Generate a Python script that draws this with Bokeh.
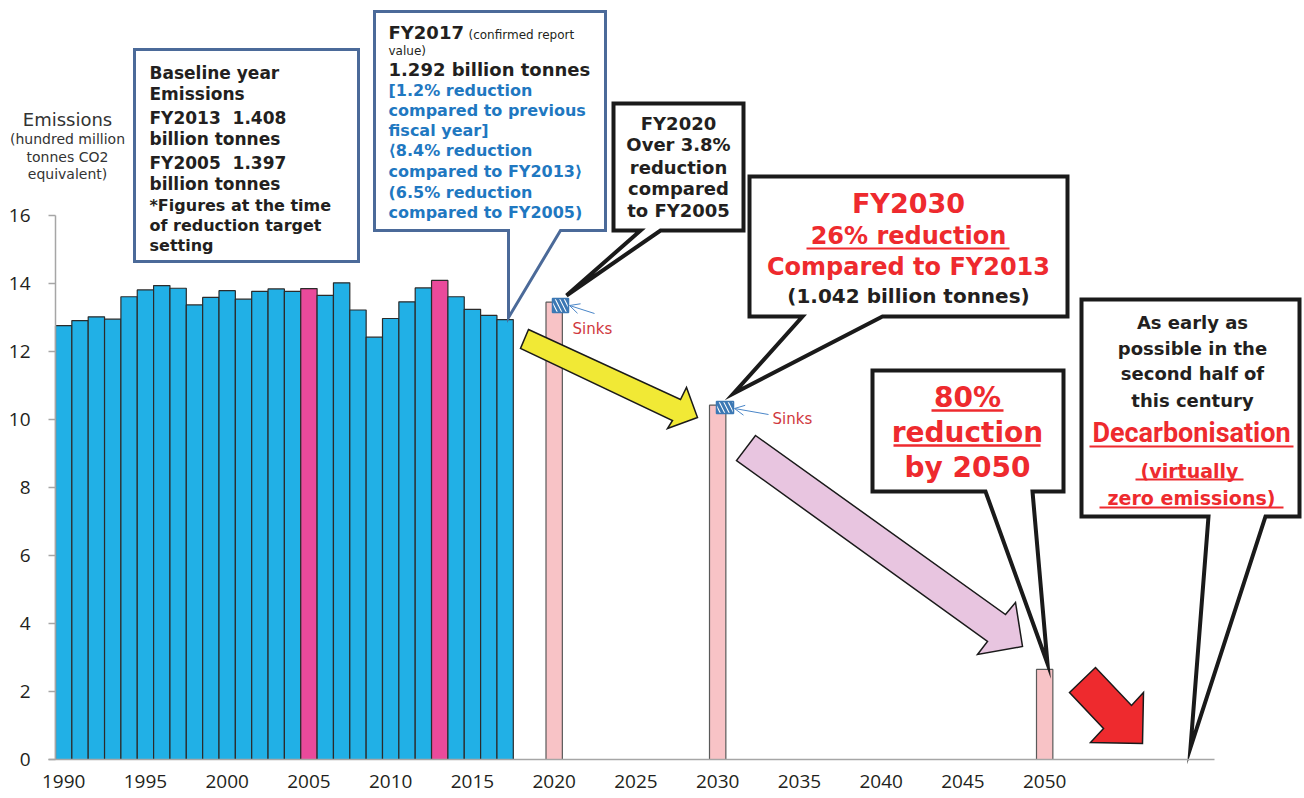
from bokeh.plotting import figure
from bokeh.models import FixedTicker, Arrow, OpenHead
from bokeh.core.properties import value
from bokeh.embed import file_html
from bokeh.resources import INLINE

# ---------------- data ----------------
hist_years = list(range(1990, 2018))
hist_emissions = [12.76, 12.91, 13.02, 12.95, 13.61, 13.81, 13.94, 13.86, 13.37, 13.59,
                  13.79, 13.54, 13.77, 13.84, 13.77, 13.85, 13.65, 14.02, 13.22, 12.42,
                  12.97, 13.46, 13.87, 14.09, 13.61, 13.24, 13.06, 12.94]
highlight_years = [2005, 2013]
target_years = [2020, 2030, 2050]
target_emissions = [13.45, 10.42, 2.65]
y_ticks = [0, 2, 4, 6, 8, 10, 12, 14, 16]
x_ticks = [1990, 1995, 2000, 2005, 2010, 2015, 2020, 2025, 2030, 2035, 2040, 2045, 2050]

BLUE = "#21B0E6"
MAGENTA = "#EA4A9B"
LIGHTPINK = "#F8C3C6"
RED = "#EE2A2E"
TXT = "#231F20"
TXTBLUE = "#1F78C1"
BOXBLUE = "#4B6A99"

# ---------------- figure ----------------
W, H = 1302, 796
X0 = 1989.5
PXY = 16.35   # pixels per year
PXU = 34.0    # pixels per unit
AXIS_PX, BOTTOM_PX = 55, 759

def dx(px):
    return X0 + (px - AXIS_PX) / PXY

def dy(py):
    return (BOTTOM_PX - py) / PXU

p = figure(width=W, height=H, output_backend="svg", toolbar_location=None,
           x_range=(dx(0), dx(W)), y_range=(dy(H), dy(0)),
           min_border_left=0, min_border_right=0, min_border_top=0, min_border_bottom=0)
p.grid.visible = False
p.outline_line_color = None
p.background_fill_color = "white"

p.yaxis.fixed_location = X0
p.yaxis.ticker = FixedTicker(ticks=y_ticks)
p.yaxis.bounds = (0, 16)
p.yaxis.axis_line_color = "#A6A6A6"
p.yaxis.axis_line_width = 1.5
p.yaxis.major_tick_line_color = "#A6A6A6"
p.yaxis.major_tick_line_width = 1.5
p.yaxis.major_tick_out = 7
p.yaxis.major_tick_in = 0
p.yaxis.minor_tick_line_color = None
p.yaxis.major_label_standoff = 18
p.yaxis.major_label_text_font = "Open Sans"
p.yaxis.major_label_text_font_size = "19px"
p.yaxis.major_label_text_color = TXT

p.xaxis.fixed_location = 0
p.xaxis.ticker = FixedTicker(ticks=x_ticks)
p.xaxis.bounds = (dx(48), dx(1214))
p.xaxis.axis_line_color = "#A6A6A6"
p.xaxis.axis_line_width = 1.5
p.xaxis.major_tick_line_color = None
p.xaxis.major_tick_out = 0
p.xaxis.major_tick_in = 0
p.xaxis.minor_tick_line_color = None
p.xaxis.major_label_standoff = 15
p.xaxis.major_label_text_font = "Open Sans"
p.xaxis.major_label_text_font_size = "19px"
p.xaxis.major_label_text_color = TXT

# ---------------- bars ----------------
hist_colors = [MAGENTA if y in highlight_years else BLUE for y in hist_years]
p.vbar(x=hist_years, top=hist_emissions, width=1.0, bottom=0,
       fill_color=hist_colors, line_color="#2B2B2B", line_width=1.2)
p.vbar(x=target_years, top=target_emissions, width=1.0, bottom=0,
       fill_color=LIGHTPINK, line_color="#5A5A5A", line_width=1.2)

# ---------------- block arrows ----------------
def poly(pts, fill, line="#1A1A1A", lw=1.5):
    p.patch([dx(a) for a, b in pts], [dy(b) for a, b in pts],
            fill_color=fill, line_color=line, line_width=lw, line_join="miter")

poly([(528, 329), (680, 399), (686, 387), (697, 417), (667, 428), (672, 420), (520, 348)], "#F1E935")
poly([(755, 435), (1005, 614), (1015, 602), (1022, 646), (977, 654), (987, 641), (736, 460)], "#E8C5E0")
poly([(1069, 692), (1095, 667), (1131, 705), (1143, 692), (1142, 743), (1090, 742), (1103, 728)], RED)

# ---------------- callouts ----------------
def callout(l, t, r, b, tail=None, color="#1A1A1A", lw=4):
    pts = [(l, t), (r, t), (r, b)]
    if tail:
        (rb, ap, lb) = tail
        pts += [(rb, b), ap, (lb, b)]
    pts += [(l, b)]
    p.patch([dx(a) for a, c in pts], [dy(c) for a, c in pts],
            fill_color="white", line_color=color, line_width=lw, line_join="miter")

callout(134, 49, 358, 261, None, BOXBLUE, 3)
callout(374, 11, 605, 230, (560, (508, 317), 508), BOXBLUE, 3)
callout(613, 103, 743, 230, (660, (566, 295), 640))
callout(749, 176, 1067, 316, (882, (733, 393), 802))
callout(872, 370, 1063, 491, (1032, (1047, 663), 985))
callout(1081, 299, 1299, 516, (1265, (1190, 747), 1208))

# ---------------- sinks ----------------
for (l, t, r, b), (x0, y0, x1, y1), (tx, ty) in [
        ((552, 298, 568, 312), (594, 313, 569, 305), (572, 328)),
        ((716, 401, 733, 413), (768, 414, 734, 408), (772, 418))]:
    p.quad(left=dx(l), right=dx(r), top=dy(t), bottom=dy(b), fill_color="white",
           hatch_pattern="\\", hatch_color="#3C78B4", hatch_weight=3, hatch_scale=9,
           line_color="#3C78B4", line_width=1.5)
    p.add_layout(Arrow(end=OpenHead(size=10, line_color="#4A86C8", line_width=1),
                       x_start=dx(x0), y_start=dy(y0), x_end=dx(x1), y_end=dy(y1),
                       line_color="#4A86C8", line_width=1))
    p.text(x=[dx(tx)], y=[dy(ty)], text=["Sinks"], text_font=value("DejaVu Sans"),
           text_font_size="15px", text_color="#D0383E", text_align="left",
           text_baseline="middle")

# ---------------- texts ----------------
def txt(x, y, s, size, color=TXT, bold=True, align="left", font="DejaVu Sans"):
    p.text(x=[dx(x)], y=[dy(y)], text=[s], text_font=value(font),
           text_font_size=f"{size}px", text_color=color,
           text_font_style="bold" if bold else "normal",
           text_align=align, text_baseline="middle")

def uline(x0, x1, y, w=2.2, color=RED):
    p.segment(x0=[dx(x0)], y0=[dy(y)], x1=[dx(x1)], y1=[dy(y)], line_color=color, line_width=w)

NB = "\u00a0"

# y axis title
for s, yy, sz in [("Emissions", 119, 18), ("(hundred million", 138, 14),
                  ("tonnes CO2", 156, 14), ("equivalent)", 173, 14)]:
    txt(67, yy, s, sz, color="#333333", bold=False, align="center")

# box 1
for s, yy, sz in [("Baseline year", 72, 17), ("Emissions", 93, 17), ("FY2013 " + NB + "1.408", 117, 17),
                  ("billion tonnes", 138, 17), ("FY2005 " + NB + "1.397", 162, 17), ("billion tonnes", 183, 17),
                  ("*Figures at the time", 205, 16), ("of reduction target", 225, 16), ("setting", 245, 16)]:
    txt(149, yy, s, sz)

# box 2
txt(388, 32, "FY2017", 18)
txt(468, 34, "(confirmed report", 12, bold=False)
txt(388, 50, "value)", 12, bold=False)
txt(388, 69, "1.292 billion tonnes", 18)
for s, yy in [("[1.2% reduction", 90), ("compared to previous", 110), ("fiscal year]", 130),
              ("\u27e88.4% reduction", 150), ("compared to FY2013\u27e9", 171),
              ("(6.5% reduction", 192), ("compared to FY2005)", 212)]:
    txt(388, yy, s, 16, color=TXTBLUE)

# box 3
for s, yy in [("FY2020", 123), ("Over 3.8%", 144), ("reduction", 167), ("compared", 188), ("to FY2005", 210)]:
    txt(678, yy, s, 18, align="center")

# box 4
txt(908, 203, "FY2030", 27, color=RED, align="center")
txt(908, 235, "26% reduction", 24, color=RED, align="center")
uline(806, 1009, 248)
txt(908, 266, "Compared to FY2013", 24, color=RED, align="center")
txt(908, 295, "(1.042 billion tonnes)", 20, align="center")

# box 5
txt(967, 397, "80%", 28, color=RED, align="center")
uline(931, 1003, 410, 2.5)
txt(967, 432, "reduction", 28, color=RED, align="center")
uline(893, 1040, 445, 2.5)
txt(967, 467, "by 2050", 28, color=RED, align="center")

# box 6
for s, yy in [("As early as", 322), ("possible in the", 348), ("second half of", 373), ("this century", 400)]:
    txt(1192, yy, s, 18, align="center")
txt(1191, 432, "Decarbonisation", 27, color=RED, align="center", font="Roboto")
uline(1089, 1293, 446)
txt(1189, 470, "(virtually", 19, color=RED, align="center")
uline(1135, 1243, 479)
txt(1191, 497, "zero emissions)", 19, color=RED, align="center")
uline(1099, 1283, 507)

open("out.html", "w").write(file_html(p, INLINE))
